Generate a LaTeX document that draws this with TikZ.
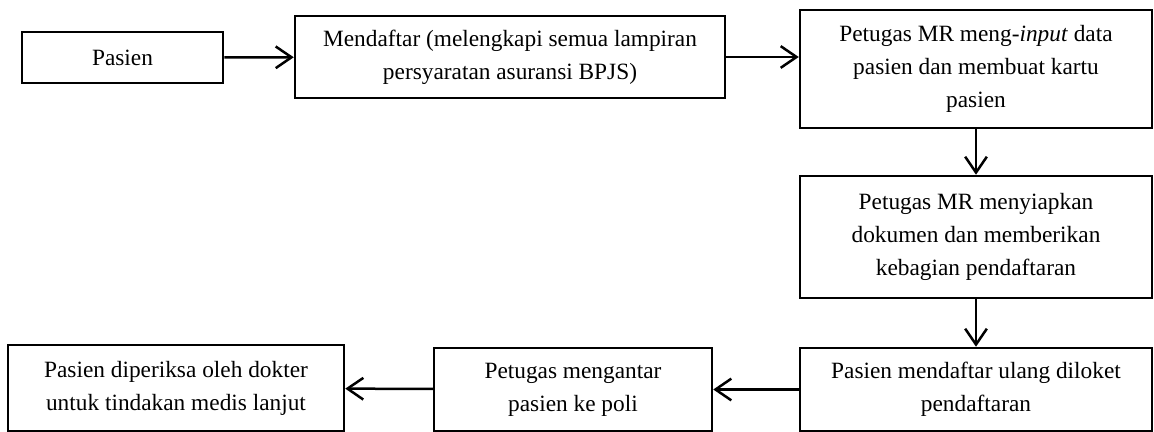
\documentclass[tikz,border=0pt]{standalone}
\usepackage{fontspec}
\setmainfont{Liberation Serif}
\usepackage{tikz}
\usetikzlibrary{arrows.meta, positioning}

\begin{document}
\begin{tikzpicture}[
    x=0.6pt, y=-0.6pt,
    box/.style={draw, line width=1.5pt, align=center, inner sep=0pt,
        font=\fontsize{14pt}{19.8pt}\selectfont},
    flow/.style={line width=1.5pt, -{Straight Barb[length=9.5pt, width=13pt, line width=1.5pt]}}
]
\useasboundingbox (0,0) rectangle (1154,432);

% baris atas
\node[box, minimum width=120.6pt, minimum height=30.6pt] (pasien) at (122.5,57.5) {Pasien};
\node[box, minimum width=258pt, minimum height=49.2pt] (daftar) at (510,57)
    {Mendaftar (melengkapi semua lampiran\\ persyaratan asuransi BPJS)};
\node[box, minimum width=211.2pt, minimum height=70.8pt] (input) at (976,69)
    {Petugas MR meng-\textit{input} data\\ pasien dan membuat kartu\\ pasien};

% kolom kanan
\node[box, minimum width=211.2pt, minimum height=73.2pt] (siapkan) at (976,237)
    {Petugas MR menyiapkan\\ dokumen dan memberikan\\ kebagian pendaftaran};
\node[box, minimum width=211.2pt, minimum height=49.8pt] (ulang) at (976,389.5)
    {Pasien mendaftar ulang diloket\\ pendaftaran};

% baris bawah
\node[box, minimum width=166.8pt, minimum height=49.8pt] (antar) at (573,389.5)
    {Petugas mengantar\\ pasien ke poli};
\node[box, minimum width=201.6pt, minimum height=51.6pt] (periksa) at (176,388)
    {Pasien diperiksa oleh dokter\\ untuk tindakan medis lanjut};

\draw[flow] (pasien) -- (daftar);
\draw[flow] (daftar) -- (daftar -| input.west);
\draw[flow] (input) -- (siapkan);
\draw[flow] (siapkan) -- (ulang);
\draw[flow] (ulang) -- (antar);
\draw[flow] (antar) -- (periksa);

\end{tikzpicture}
\end{document}
